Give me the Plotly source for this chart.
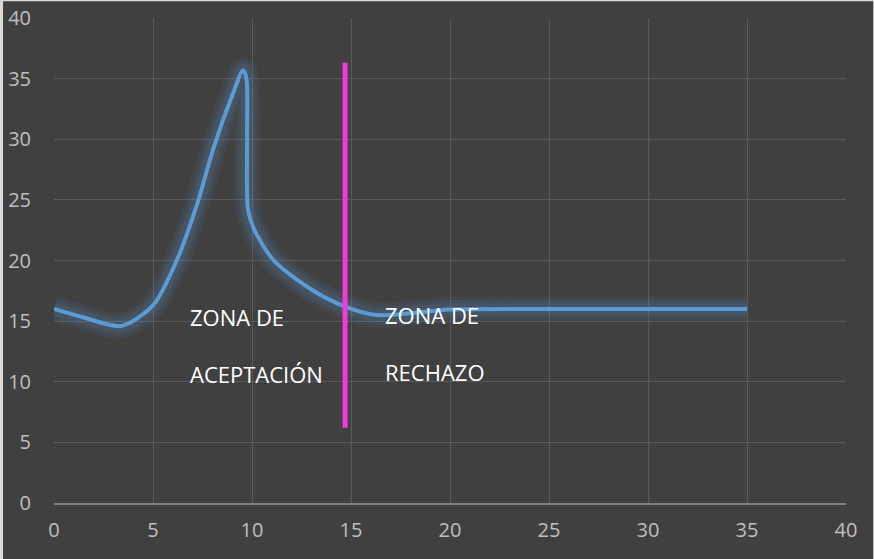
import plotly.graph_objects as go

# Curve
curve_x = [0, 1.5, 3.4, 5, 6.2, 7.2, 8.1, 9.0, 9.55, 9.72, 9.75, 9.8, 10.1, 11.1, 13.1, 14.7, 16.3, 20, 25, 30, 35]
curve_y = [16, 15.3, 14.6, 16.3, 20, 24.5, 29.5, 33.6, 35.7, 35.0, 30, 24.2, 22.6, 20, 17.5, 16.2, 15.5, 15.95, 16, 16, 16]

# Vertical limit line
limit_x = [14.7, 14.7]
limit_y = [6.2, 36.3]

# Zone labels
label_x = [6.75, 6.75, 16.6, 16.6]
label_y = [15.3, 10.6, 15.5, 10.8]
label_text = ["ZONA DE", "ACEPTACIÓN", "ZONA DE", "RECHAZO"]

x_ticks = [0, 5, 10, 15, 20, 25, 30, 35, 40]
y_ticks = [0, 5, 10, 15, 20, 25, 30, 35, 40]

BLUE = "#5B9BD5"
fig = go.Figure()

# glow layers
for w, op in [(26, 0.07), (19, 0.08), (13, 0.10)]:
    fig.add_trace(go.Scatter(x=curve_x, y=curve_y, mode="lines",
                             line=dict(color=BLUE, width=w, shape="spline", smoothing=0.8),
                             opacity=op, hoverinfo="skip", showlegend=False))
fig.add_trace(go.Scatter(x=curve_x, y=curve_y, mode="lines",
                         line=dict(color=BLUE, width=4, shape="spline", smoothing=0.8),
                         showlegend=False))
fig.add_trace(go.Scatter(x=limit_x, y=limit_y, mode="lines",
                         line=dict(color="#F23BD9", width=5), showlegend=False))

for lx, ly, t in zip(label_x, label_y, label_text):
    fig.add_annotation(x=lx, y=ly, text=t, showarrow=False, xanchor="left", yanchor="middle",
                       font=dict(family="Open Sans", size=22, color="#FFFFFF"))

L, R, T, B = 54, 28, 18, 56
W, H = 874, 559
pw, ph = W - L - R, H - T - B

fig.update_layout(
    width=W, height=H,
    margin=dict(l=L, r=R, t=T, b=B, autoexpand=False),
    paper_bgcolor="#404040", plot_bgcolor="#404040",
    font=dict(family="Open Sans", size=20, color="#BFBFBF"),
    xaxis=dict(range=[0, 40], tickvals=x_ticks, ticktext=[str(v) for v in x_ticks],
               showgrid=True, gridcolor="#595959", gridwidth=1, zeroline=False,
               showline=True, linecolor="#808080", linewidth=2, ticks="outside", ticklen=8,
               tickcolor="rgba(0,0,0,0)", automargin=False,
               tickfont=dict(size=20, color="#BFBFBF")),
    yaxis=dict(range=[0, 40], tickvals=y_ticks, ticktext=[str(v) for v in y_ticks],
               showgrid=True, gridcolor="#595959", gridwidth=1, zeroline=False,
               showline=False, ticks="outside", ticklen=18, tickcolor="rgba(0,0,0,0)",
               automargin=False,
               tickfont=dict(size=20, color="#BFBFBF")),
)

# light outer border (top, left, right)
fig.add_shape(type="line", xref="paper", yref="paper",
              x0=-L / pw, x1=(W - L) / pw, y0=(H - B - 0.5) / ph, y1=(H - B - 0.5) / ph,
              line=dict(color="#D9D9D9", width=1.5))
fig.add_shape(type="line", xref="paper", yref="paper",
              x0=(-L + 1.5) / pw, x1=(-L + 1.5) / pw, y0=-B / ph, y1=(H - B) / ph,
              line=dict(color="#D9D9D9", width=3))
fig.add_shape(type="line", xref="paper", yref="paper",
              x0=(W - L - 0.5) / pw, x1=(W - L - 0.5) / pw, y0=-B / ph, y1=(H - B) / ph,
              line=dict(color="#BFBFBF", width=1))

fig.write_html("out.html", config={"displayModeBar": False},
               post_script="document.body.style.margin='0';document.body.style.background='#404040';")
